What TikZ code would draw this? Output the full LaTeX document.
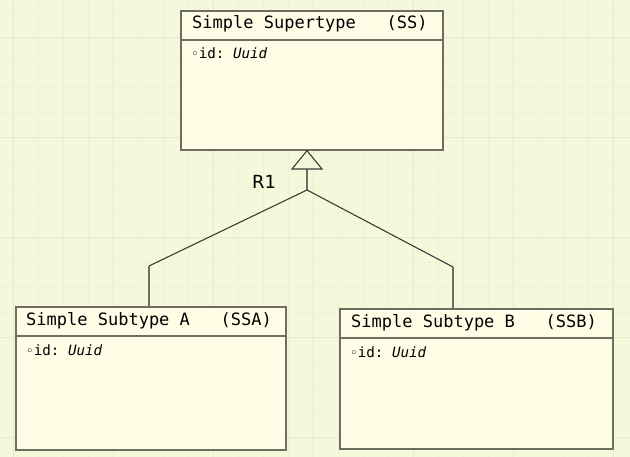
\documentclass[tikz,border=0pt]{standalone}
\usepackage{fontspec}
\setmonofont{DejaVu Sans Mono}
\setsansfont{DejaVu Sans}
\definecolor{bgc}{HTML}{F3F9DA}
\definecolor{gridminor}{HTML}{EDF4D6}
\definecolor{gridmajor}{HTML}{E3EDCE}
\definecolor{boxfill}{HTML}{FFFDE6}
\definecolor{boxline}{HTML}{6E6E60}
\definecolor{conline}{HTML}{3C3C36}
\tikzset{
  classbox/.style={draw=boxline, fill=boxfill, line width=1.7pt, inner sep=0pt, anchor=north west},
  classtitle/.style={anchor=base west, inner sep=0pt, font=\ttfamily\fontsize{17}{20}\selectfont, text=black},
  classattr/.style={anchor=base west, inner sep=0pt, font=\ttfamily\fontsize{14.2}{17}\selectfont, text=black},
  conn/.style={draw=conline, line width=1.1pt},
  stem/.style={draw=boxline, line width=1.8pt},
  rlabel/.style={anchor=center, inner sep=0pt, font=\sffamily\fontsize{18}{20}\selectfont, text=black}
}
\begin{document}
\begin{tikzpicture}[x=1pt,y=-1pt]
\useasboundingbox (0,0) rectangle (630,457);
\fill[bgc] (0,0) rectangle (630,457);
% grid
\foreach \gx in {13,38,...,630} {\draw[gridminor, line width=0.6pt] (\gx,0) -- (\gx,457);}
\foreach \gy in {12,37,...,457} {\draw[gridminor, line width=0.6pt] (0,\gy) -- (630,\gy);}
\foreach \gx in {13,113,...,630} {\draw[gridmajor, line width=0.8pt] (\gx,0) -- (\gx,457);}
\foreach \gy in {37,137,...,457} {\draw[gridmajor, line width=0.8pt] (0,\gy) -- (630,\gy);}

% Supertype
\node[classbox, minimum width=262pt, minimum height=139pt] (ss) at (180,10) {};
\draw[boxline, line width=1.7pt] (ss.north west |- 0,40) -- (ss.north east |- 0,40);
\node[classtitle] (sst) at (192,29) {Simple Supertype~~~(SS)};
\node[classattr] (ssa1) at (191,59) {{\sffamily\fontsize{13}{15}\selectfont ◦}id: \textit{Uuid}};

% Subtype A
\node[classbox, minimum width=270pt, minimum height=143pt] (ssa) at (15,306) {};
\draw[boxline, line width=1.7pt] (ssa.north west |- 0,336) -- (ssa.north east |- 0,336);
\node[classtitle] (ssat) at (26,326) {Simple Subtype A~~~(SSA)};
\node[classattr] (ssaa1) at (26,356) {{\sffamily\fontsize{13}{15}\selectfont ◦}id: \textit{Uuid}};

% Subtype B
\node[classbox, minimum width=273pt, minimum height=140pt] (ssb) at (339,308) {};
\draw[boxline, line width=1.7pt] (ssb.north west |- 0,338) -- (ssb.north east |- 0,338);
\node[classtitle] (ssbt) at (351,328) {Simple Subtype B~~~(SSB)};
\node[classattr] (ssba1) at (350,358) {{\sffamily\fontsize{13}{15}\selectfont ◦}id: \textit{Uuid}};

% Generalization R1
\coordinate (apex) at (ss.south -| 307,0);
\coordinate (tl) at (292,169);
\coordinate (tr) at (322,169);
\coordinate (tb) at (307,169);
\coordinate (j) at (307,190);
\coordinate (la) at (149,266);
\coordinate (ra) at (453,267);
\draw[stem] (j) -- (tb);
\draw[conn, fill=bgc, line join=miter] (apex) -- (tl) -- (tr) -- cycle;
\draw[conn] (j) -- (la);
\draw[stem] (la) -- (la |- ssa.north);
\draw[conn] (j) -- (ra);
\draw[stem] (ra) -- (ra |- ssb.north);
\node[rlabel] (r1) at (264,182) {R1};
\end{tikzpicture}
\end{document}
